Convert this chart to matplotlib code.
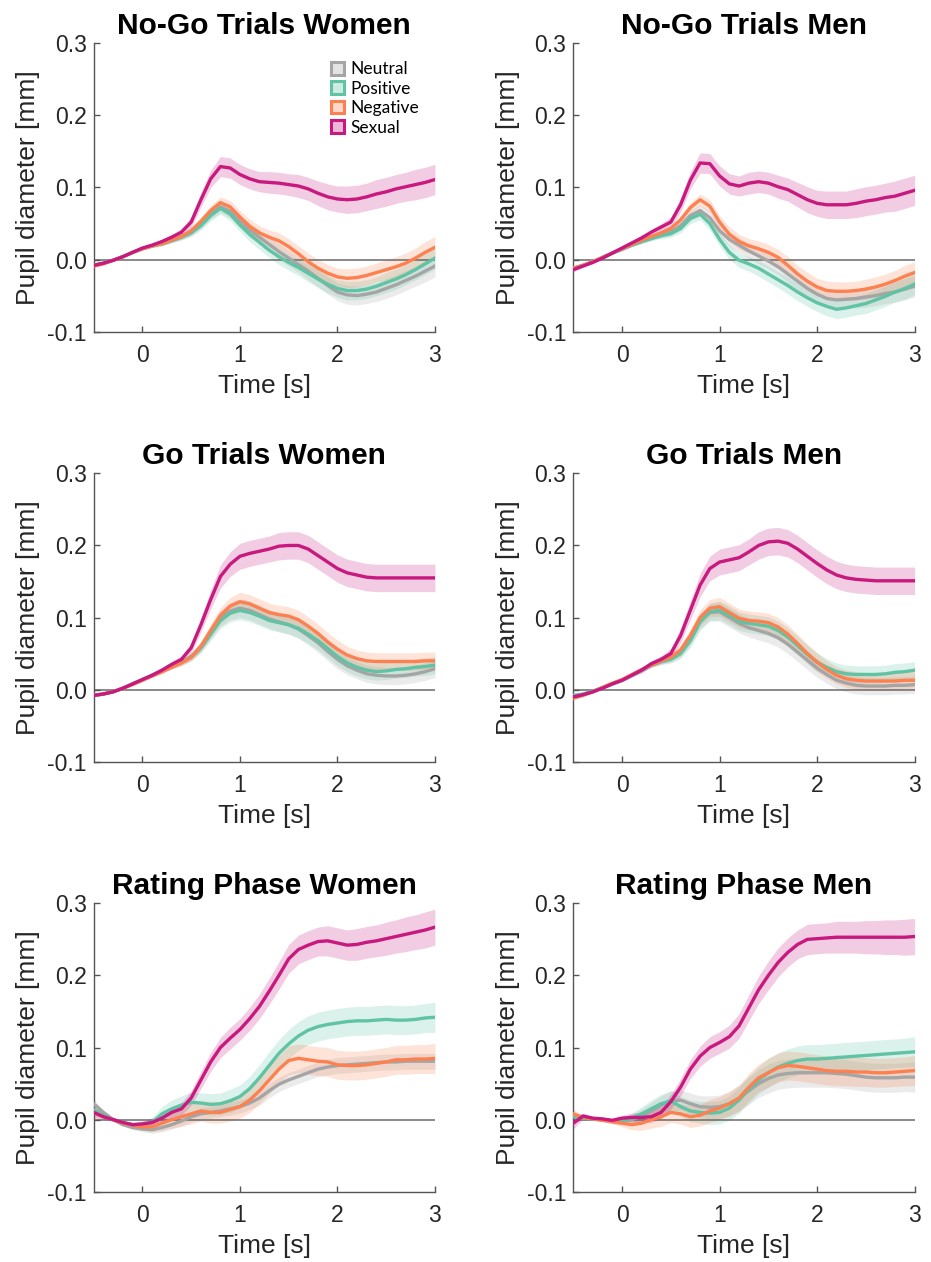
import numpy as np
import matplotlib
matplotlib.use("Agg")
import matplotlib.pyplot as plt
from matplotlib.patches import Patch
from matplotlib.colors import to_rgba

plt.rcParams['font.family'] = ['Liberation Sans', 'DejaVu Sans']

# time axis (s), step 0.1
time = np.linspace(-0.5, 3.0, 36)

conditions = ["Neutral", "Positive", "Negative", "Sexual"]
colors = ["#A5A5A5", "#5FC3A4", "#FD8050", "#C8197F"]

# ---- No-Go Trials Women ----
nogo_w_neutral = [-0.008, -0.005, -0.001, 0.004, 0.01, 0.015, 0.019, 0.022, 0.027, 0.032, 0.038, 0.049, 0.063, 0.073, 0.067, 0.053, 0.041, 0.031, 0.021, 0.011, 0.002, -0.007, -0.016, -0.026, -0.036, -0.045, -0.049, -0.05, -0.048, -0.045, -0.04, -0.035, -0.029, -0.023, -0.016, -0.009]
nogo_w_positive = [-0.008, -0.005, -0.001, 0.004, 0.01, 0.015, 0.019, 0.022, 0.026, 0.031, 0.037, 0.047, 0.061, 0.071, 0.063, 0.048, 0.035, 0.024, 0.013, 0.004, -0.004, -0.011, -0.019, -0.027, -0.034, -0.04, -0.043, -0.043, -0.041, -0.037, -0.032, -0.027, -0.021, -0.014, -0.006, 0.002]
nogo_w_negative = [-0.009, -0.006, -0.001, 0.004, 0.01, 0.015, 0.019, 0.022, 0.027, 0.032, 0.04, 0.053, 0.068, 0.079, 0.073, 0.059, 0.046, 0.037, 0.031, 0.026, 0.018, 0.008, -0.003, -0.012, -0.019, -0.024, -0.026, -0.025, -0.022, -0.018, -0.014, -0.01, -0.005, 0.002, 0.01, 0.017]
nogo_w_sexual = [-0.008, -0.005, -0.001, 0.004, 0.01, 0.016, 0.02, 0.025, 0.031, 0.038, 0.052, 0.083, 0.112, 0.129, 0.127, 0.118, 0.112, 0.108, 0.107, 0.106, 0.104, 0.102, 0.098, 0.092, 0.087, 0.084, 0.083, 0.084, 0.087, 0.091, 0.094, 0.098, 0.101, 0.104, 0.107, 0.111]

# ---- No-Go Trials Men ----
nogo_m_neutral = [-0.012, -0.008, -0.003, 0.003, 0.009, 0.014, 0.02, 0.025, 0.03, 0.034, 0.038, 0.047, 0.061, 0.068, 0.058, 0.04, 0.028, 0.02, 0.012, 0.005, -0.002, -0.01, -0.02, -0.03, -0.04, -0.048, -0.054, -0.056, -0.055, -0.054, -0.052, -0.05, -0.047, -0.045, -0.041, -0.037]
nogo_m_positive = [-0.012, -0.008, -0.003, 0.003, 0.009, 0.015, 0.02, 0.025, 0.029, 0.033, 0.036, 0.043, 0.057, 0.063, 0.05, 0.028, 0.01, -0.001, -0.006, -0.012, -0.02, -0.028, -0.036, -0.045, -0.053, -0.06, -0.065, -0.069, -0.067, -0.064, -0.061, -0.056, -0.051, -0.045, -0.04, -0.034]
nogo_m_negative = [-0.012, -0.008, -0.003, 0.003, 0.009, 0.015, 0.021, 0.027, 0.032, 0.037, 0.043, 0.055, 0.072, 0.083, 0.074, 0.052, 0.035, 0.025, 0.019, 0.015, 0.01, 0.003, -0.008, -0.02, -0.03, -0.038, -0.043, -0.044, -0.044, -0.043, -0.041, -0.038, -0.034, -0.029, -0.023, -0.018]
nogo_m_sexual = [-0.014, -0.009, -0.004, 0.002, 0.009, 0.016, 0.023, 0.03, 0.038, 0.045, 0.052, 0.076, 0.11, 0.134, 0.133, 0.116, 0.105, 0.102, 0.106, 0.108, 0.106, 0.101, 0.097, 0.09, 0.083, 0.078, 0.076, 0.076, 0.076, 0.078, 0.081, 0.083, 0.086, 0.088, 0.092, 0.096]

# ---- Go Trials Women ----
go_w_neutral = [-0.008, -0.006, -0.003, 0.002, 0.008, 0.014, 0.02, 0.026, 0.032, 0.038, 0.046, 0.06, 0.079, 0.099, 0.109, 0.113, 0.11, 0.104, 0.098, 0.094, 0.09, 0.084, 0.075, 0.065, 0.053, 0.042, 0.033, 0.027, 0.022, 0.02, 0.019, 0.019, 0.02, 0.022, 0.025, 0.029]
go_w_positive = [-0.008, -0.006, -0.003, 0.002, 0.008, 0.014, 0.02, 0.026, 0.032, 0.038, 0.045, 0.058, 0.077, 0.096, 0.106, 0.11, 0.107, 0.102, 0.096, 0.093, 0.09, 0.085, 0.077, 0.068, 0.057, 0.046, 0.037, 0.031, 0.027, 0.025, 0.026, 0.028, 0.029, 0.031, 0.032, 0.034]
go_w_negative = [-0.008, -0.006, -0.003, 0.002, 0.007, 0.013, 0.019, 0.025, 0.031, 0.037, 0.045, 0.06, 0.082, 0.103, 0.116, 0.122, 0.119, 0.113, 0.107, 0.104, 0.102, 0.097, 0.088, 0.078, 0.066, 0.056, 0.048, 0.043, 0.04, 0.039, 0.039, 0.039, 0.039, 0.039, 0.04, 0.04]
go_w_sexual = [-0.008, -0.006, -0.003, 0.002, 0.008, 0.014, 0.02, 0.027, 0.035, 0.042, 0.058, 0.09, 0.125, 0.157, 0.174, 0.185, 0.189, 0.192, 0.195, 0.199, 0.2, 0.2, 0.195, 0.186, 0.177, 0.168, 0.162, 0.159, 0.156, 0.155, 0.155, 0.155, 0.155, 0.155, 0.155, 0.155]

# ---- Go Trials Men ----
go_m_neutral = [-0.01, -0.007, -0.003, 0.003, 0.008, 0.013, 0.02, 0.027, 0.034, 0.039, 0.043, 0.052, 0.07, 0.095, 0.107, 0.108, 0.1, 0.092, 0.086, 0.082, 0.078, 0.072, 0.063, 0.052, 0.041, 0.03, 0.021, 0.013, 0.009, 0.006, 0.005, 0.005, 0.005, 0.006, 0.006, 0.007]
go_m_positive = [-0.008, -0.006, -0.002, 0.003, 0.008, 0.013, 0.02, 0.027, 0.034, 0.039, 0.042, 0.05, 0.068, 0.094, 0.108, 0.11, 0.103, 0.095, 0.092, 0.09, 0.088, 0.082, 0.073, 0.061, 0.049, 0.038, 0.031, 0.025, 0.022, 0.021, 0.021, 0.021, 0.022, 0.024, 0.025, 0.027]
go_m_negative = [-0.012, -0.008, -0.003, 0.003, 0.009, 0.014, 0.021, 0.028, 0.034, 0.04, 0.045, 0.055, 0.075, 0.1, 0.113, 0.115, 0.107, 0.099, 0.096, 0.095, 0.093, 0.087, 0.077, 0.064, 0.05, 0.038, 0.028, 0.02, 0.015, 0.013, 0.012, 0.012, 0.012, 0.012, 0.013, 0.013]
go_m_sexual = [-0.01, -0.007, -0.003, 0.002, 0.008, 0.013, 0.02, 0.027, 0.036, 0.042, 0.05, 0.075, 0.11, 0.145, 0.168, 0.177, 0.18, 0.183, 0.191, 0.2, 0.205, 0.206, 0.203, 0.195, 0.185, 0.175, 0.166, 0.159, 0.155, 0.153, 0.152, 0.151, 0.151, 0.151, 0.151, 0.151]

# ---- Rating Phase Women ----
rate_w_neutral = [0.022, 0.01, 0.0, -0.007, -0.011, -0.013, -0.014, -0.011, -0.007, -0.002, 0.004, 0.008, 0.01, 0.012, 0.015, 0.018, 0.023, 0.03, 0.04, 0.049, 0.055, 0.06, 0.065, 0.07, 0.073, 0.075, 0.076, 0.077, 0.078, 0.079, 0.08, 0.08, 0.081, 0.081, 0.081, 0.081]
rate_w_positive = [0.014, 0.006, 0.0, -0.004, -0.007, -0.007, -0.004, 0.008, 0.015, 0.02, 0.024, 0.023, 0.021, 0.022, 0.026, 0.032, 0.043, 0.058, 0.075, 0.092, 0.105, 0.116, 0.124, 0.129, 0.132, 0.134, 0.136, 0.137, 0.137, 0.138, 0.139, 0.138, 0.138, 0.139, 0.141, 0.142]
rate_w_negative = [0.01, 0.004, 0.0, -0.005, -0.008, -0.01, -0.01, -0.005, 0.0, 0.004, 0.008, 0.012, 0.01, 0.01, 0.014, 0.018, 0.027, 0.04, 0.055, 0.07, 0.082, 0.085, 0.083, 0.081, 0.08, 0.076, 0.075, 0.075, 0.076, 0.078, 0.08, 0.083, 0.083, 0.084, 0.084, 0.085]
rate_w_sexual = [0.01, 0.004, 0.0, -0.004, -0.007, -0.006, -0.004, 0.002, 0.01, 0.015, 0.03, 0.055, 0.08, 0.1, 0.113, 0.125, 0.14, 0.157, 0.178, 0.2, 0.223, 0.236, 0.242, 0.247, 0.248, 0.245, 0.242, 0.243, 0.246, 0.248, 0.251, 0.254, 0.257, 0.26, 0.263, 0.267]

# ---- Rating Phase Men ----
rate_m_neutral = [0.005, 0.003, 0.001, 0.0, -0.002, -0.002, 0.0, 0.005, 0.012, 0.02, 0.026, 0.027, 0.022, 0.018, 0.017, 0.018, 0.022, 0.03, 0.04, 0.05, 0.057, 0.062, 0.064, 0.065, 0.065, 0.065, 0.065, 0.064, 0.063, 0.061, 0.059, 0.058, 0.058, 0.058, 0.059, 0.059]
rate_m_positive = [0.004, 0.002, 0.001, 0.0, -0.002, -0.002, 0.002, 0.008, 0.015, 0.022, 0.026, 0.018, 0.012, 0.01, 0.009, 0.01, 0.016, 0.027, 0.042, 0.055, 0.065, 0.073, 0.078, 0.082, 0.084, 0.084, 0.085, 0.086, 0.087, 0.088, 0.089, 0.09, 0.091, 0.092, 0.093, 0.094]
rate_m_negative = [0.008, 0.003, 0.001, -0.001, -0.003, -0.005, -0.007, -0.005, 0.0, 0.004, 0.01, 0.008, 0.004, 0.006, 0.012, 0.016, 0.022, 0.03, 0.045, 0.058, 0.065, 0.072, 0.075, 0.074, 0.072, 0.07, 0.068, 0.067, 0.067, 0.066, 0.066, 0.065, 0.065, 0.066, 0.067, 0.068]
rate_m_sexual = [-0.005, 0.005, 0.002, 0.001, -0.001, 0.002, 0.003, 0.003, 0.004, 0.01, 0.025, 0.045, 0.07, 0.088, 0.1, 0.107, 0.115, 0.13, 0.155, 0.18, 0.2, 0.218, 0.232, 0.243, 0.25, 0.251, 0.252, 0.253, 0.253, 0.253, 0.253, 0.253, 0.253, 0.253, 0.253, 0.254]

# standard errors (half width of the shaded bands)
se_nogo_small = [0.002, 0.001, 0.001, 0.001, 0.001, 0.002, 0.002, 0.003, 0.003, 0.004, 0.005, 0.006, 0.007, 0.008, 0.009, 0.009, 0.010, 0.010, 0.010, 0.011, 0.011, 0.011, 0.012, 0.012, 0.012, 0.012, 0.013, 0.013, 0.013, 0.013, 0.014, 0.014, 0.014, 0.014, 0.015, 0.015]
se_nogo_sexual = [0.003, 0.002, 0.001, 0.001, 0.002, 0.002, 0.003, 0.003, 0.004, 0.005, 0.007, 0.010, 0.012, 0.014, 0.014, 0.014, 0.014, 0.014, 0.015, 0.015, 0.015, 0.016, 0.016, 0.017, 0.018, 0.018, 0.019, 0.019, 0.019, 0.020, 0.020, 0.020, 0.020, 0.021, 0.021, 0.021]
se_go_small = [0.002, 0.001, 0.001, 0.001, 0.001, 0.002, 0.002, 0.003, 0.003, 0.004, 0.005, 0.007, 0.009, 0.011, 0.012, 0.013, 0.013, 0.013, 0.013, 0.013, 0.013, 0.013, 0.013, 0.013, 0.013, 0.013, 0.012, 0.012, 0.012, 0.012, 0.012, 0.012, 0.012, 0.012, 0.012, 0.012]
se_go_sexual = [0.002, 0.001, 0.001, 0.001, 0.002, 0.002, 0.003, 0.004, 0.004, 0.005, 0.007, 0.010, 0.013, 0.016, 0.017, 0.018, 0.018, 0.018, 0.018, 0.019, 0.019, 0.019, 0.019, 0.019, 0.019, 0.019, 0.019, 0.019, 0.019, 0.019, 0.019, 0.019, 0.019, 0.019, 0.019, 0.019]
se_rate_narrow = [0.006, 0.003, 0.002, 0.002, 0.003, 0.004, 0.005, 0.006, 0.006, 0.007, 0.007, 0.008, 0.008, 0.008, 0.009, 0.009, 0.009, 0.010, 0.010, 0.010, 0.010, 0.010, 0.010, 0.010, 0.011, 0.011, 0.011, 0.011, 0.011, 0.011, 0.011, 0.011, 0.011, 0.011, 0.011, 0.011]
se_rate_wide = [0.006, 0.003, 0.002, 0.002, 0.003, 0.005, 0.007, 0.010, 0.012, 0.013, 0.014, 0.014, 0.015, 0.015, 0.016, 0.016, 0.017, 0.018, 0.019, 0.019, 0.020, 0.020, 0.020, 0.020, 0.020, 0.020, 0.020, 0.020, 0.020, 0.020, 0.020, 0.020, 0.020, 0.020, 0.020, 0.021]
se_rate_sexual = [0.008, 0.004, 0.002, 0.002, 0.003, 0.004, 0.006, 0.007, 0.008, 0.009, 0.010, 0.012, 0.013, 0.014, 0.015, 0.015, 0.016, 0.017, 0.018, 0.019, 0.020, 0.020, 0.020, 0.020, 0.021, 0.021, 0.021, 0.022, 0.022, 0.022, 0.023, 0.023, 0.024, 0.024, 0.025, 0.025]

panels = [
    ("No-Go Trials Women", [nogo_w_neutral, nogo_w_positive, nogo_w_negative, nogo_w_sexual],
     [se_nogo_small, se_nogo_small, se_nogo_small, se_nogo_sexual]),
    ("No-Go Trials Men", [nogo_m_neutral, nogo_m_positive, nogo_m_negative, nogo_m_sexual],
     [se_nogo_small, se_nogo_small, se_nogo_small, se_nogo_sexual]),
    ("Go Trials Women", [go_w_neutral, go_w_positive, go_w_negative, go_w_sexual],
     [se_go_small, se_go_small, se_go_small, se_go_sexual]),
    ("Go Trials Men", [go_m_neutral, go_m_positive, go_m_negative, go_m_sexual],
     [se_go_small, se_go_small, se_go_small, se_go_sexual]),
    ("Rating Phase Women", [rate_w_neutral, rate_w_positive, rate_w_negative, rate_w_sexual],
     [se_rate_narrow, se_rate_wide, se_rate_wide, se_rate_sexual]),
    ("Rating Phase Men", [rate_m_neutral, rate_m_positive, rate_m_negative, rate_m_sexual],
     [se_rate_wide, se_rate_wide, se_rate_wide, se_rate_sexual]),
]

fig = plt.figure(figsize=(9.31, 12.62), dpi=100)

lefts = [0.1006, 0.6158]
bottoms = [0.7372, 0.3964, 0.0557]
w, h = 0.3666, 0.2285

axis_col = "#555555"
text_col = "#262626"

for i, (title, means, ses) in enumerate(panels):
    ax = fig.add_axes([lefts[i % 2], bottoms[i // 2], w, h])

    # shaded bands first, then the mean lines on top
    for m, s, c in zip(means, ses, colors):
        m = np.array(m)
        s = np.array(s)
        ax.fill_between(time, m - s, m + s, color=c, alpha=0.22, linewidth=0)
    ax.axhline(0, color="#6a6a6a", linewidth=1.1, zorder=1.5)
    for m, c in zip(means, colors):
        ax.plot(time, m, color=c, linewidth=2.4, zorder=3)

    ax.set_xlim(-0.5, 3)
    ax.set_ylim(-0.1, 0.3)
    ax.set_xticks([0, 1, 2, 3])
    ax.set_yticks([-0.1, 0, 0.1, 0.2, 0.3])
    ax.set_yticklabels(["-0.1", "0.0", "0.1", "0.2", "0.3"])

    ax.spines["top"].set_visible(False)
    ax.spines["right"].set_visible(False)
    for sp in ("left", "bottom"):
        ax.spines[sp].set_color(axis_col)
        ax.spines[sp].set_linewidth(1.0)
    ax.tick_params(direction="in", length=4, width=1.0, color=axis_col,
                   labelsize=16.5, labelcolor=text_col)
    ax.tick_params(axis="x", pad=9)
    ax.tick_params(axis="y", pad=5)

    ax.set_xlabel("Time [s]", fontsize=19, color=text_col, labelpad=5)
    ax.set_ylabel("Pupil diameter [mm]", fontsize=19, color=text_col, labelpad=5)
    ax.set_title(title, fontsize=21.5, fontweight="bold", pad=7)

    if i == 0:
        handles = [Patch(facecolor=to_rgba(c, 0.3), edgecolor=c, linewidth=2.2)
                   for c in colors]
        ax.legend(handles, conditions, loc="upper right", frameon=False,
                  prop={"family": "Lato", "size": 12.5}, handlelength=0.75,
                  handleheight=0.75, handletextpad=0.4, labelspacing=0.2,
                  borderaxespad=0.3, bbox_to_anchor=(0.99, 0.98))

fig.savefig("out.png", dpi=100)
